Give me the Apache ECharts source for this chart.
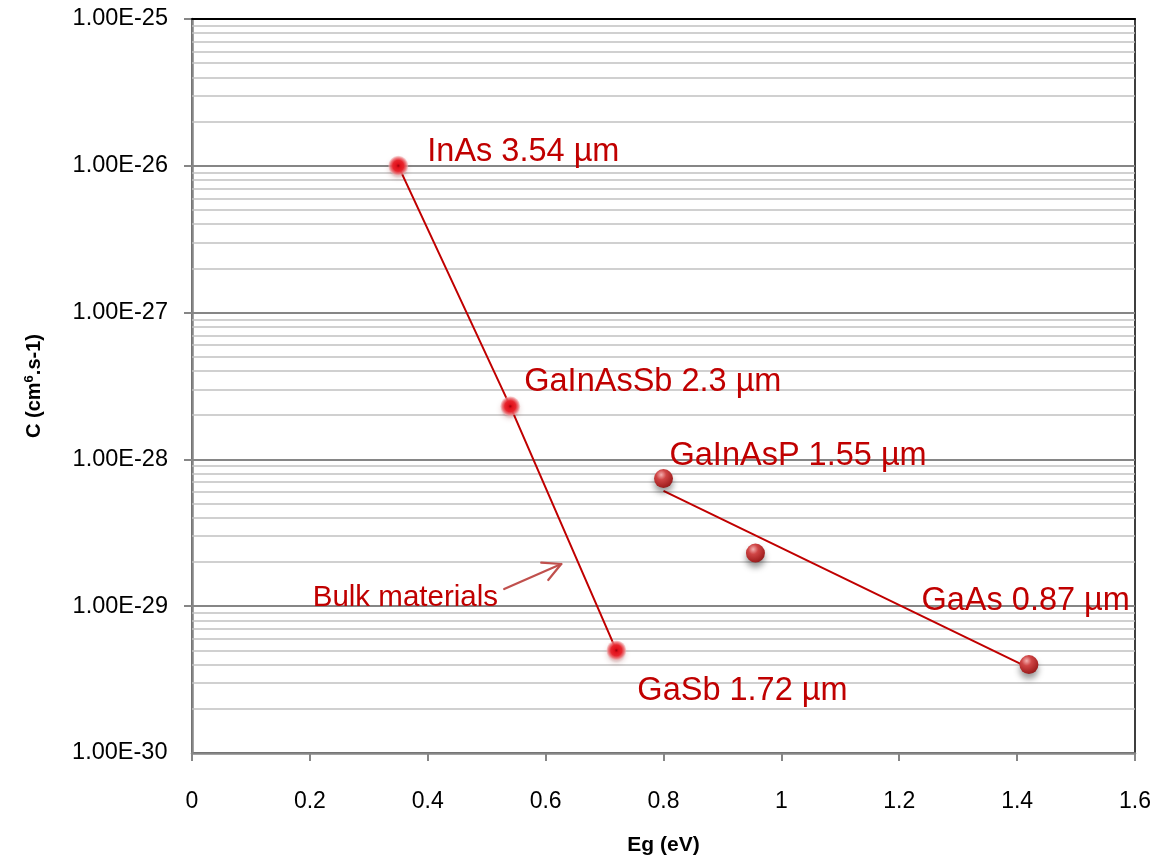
<!DOCTYPE html>
<html>
<head>
<meta charset="utf-8">
<title>Auger coefficient vs band gap</title>
<script src="https://cdn.jsdelivr.net/npm/echarts@6/dist/echarts.min.js"></script>
<style>
  html, body { margin: 0; padding: 0; background: #fff; }
  #chart { width: 1159px; height: 863px; }
</style>
</head>
<body>
<div id="chart"></div>
<script>
// Bulk III-V materials: band gap Eg (eV) vs Auger coefficient C (cm^6.s-1)
const bulkEg = [0.35, 0.54, 0.72];
const bulkC = [1.0e-26, 2.3e-28, 5.0e-30];
const bulkNames = ['InAs 3.54 µm', 'GaInAsSb 2.3 µm', 'GaSb 1.72 µm'];

// Near-infrared materials
const nirEg = [0.80, 0.956, 1.42];
const nirC = [7.4e-29, 2.3e-29, 4.0e-30];
const nirNames = ['GaInAsP 1.55 µm', '', 'GaAs 0.87 µm'];

// Trend line through the near-infrared points
const trendEg = [0.80, 1.42];
const trendC = [6.1e-29, 3.8e-30];

// Annotation "Bulk materials" and its arrow (data coordinates)
const noteText = 'Bulk materials';
const noteEg = [0.362];
const noteC = [1.14e-29];
const arrowEg = [0.5297, 0.6265, 0.6044, 0.5925];   // tail, tip, arm, arm
const arrowC = [1.31e-29, 1.938e-29, 1.509e-29, 1.978e-29];

// Axis ranges and tick labels
const xMin = 0, xMax = 1.6, xStep = 0.2;
const xTickLabels = ['0', '0.2', '0.4', '0.6', '0.8', '1', '1.2', '1.4', '1.6'];
const yTickLabels = ['1.00E-30', '1.00E-29', '1.00E-28', '1.00E-27', '1.00E-26', '1.00E-25'];
const yMinExp = -30, yMaxExp = -25;

const RED = '#C00000';
const FONT = '"Liberation Sans", Arial, sans-serif';

// label placement per point: anchor at the marker centre, then shifted
const labelPlace = {
  'InAs 3.54 µm':    { align: 'left',  offset: [29, -14] },
  'GaInAsSb 2.3 µm': { align: 'left',  offset: [14, -24] },
  'GaSb 1.72 µm':    { align: 'left',  offset: [21, 41] },
  'GaInAsP 1.55 µm': { align: 'left',  offset: [6, -23] },
  'GaAs 0.87 µm':    { align: 'right', offset: [101, -64] }
};

function pointItems(eg, c, names) {
  return eg.map((x, i) => {
    const item = { value: [x, c[i]], name: names[i] };
    const p = labelPlace[names[i]];
    if (p) {
      item.label = {
        show: true, position: 'inside', align: p.align, verticalAlign: 'middle',
        offset: p.offset, formatter: '{b}'
      };
    }
    return item;
  });
}

// minor grid values 2..9 x 10^n inside each decade, drawn across the full x range
const minorGrid = [];
for (let e = yMinExp; e < yMaxExp; e++) {
  for (let m = 2; m <= 9; m++) {
    const v = m * Math.pow(10, e);
    minorGrid.push([{ coord: [xMin, v] }, { coord: [xMax, v] }]);
  }
}

const bulkMarker = {
  color: {
    type: 'radial', x: 0.5, y: 0.5, r: 0.5,
    colorStops: [
      { offset: 0, color: '#a0000c' },
      { offset: 0.2, color: '#e0101a' },
      { offset: 0.55, color: '#e8262e' },
      { offset: 0.8, color: 'rgba(236,110,115,0.85)' },
      { offset: 1, color: 'rgba(245,190,192,0.5)' }
    ]
  },
  opacity: 1,
  shadowColor: 'rgba(120,0,0,0.3)', shadowBlur: 5, shadowOffsetY: 3
};

const sphereMarker = {
  color: {
    type: 'radial', x: 0.38, y: 0.3, r: 0.75,
    colorStops: [
      { offset: 0, color: '#f4b0b0' },
      { offset: 0.35, color: '#cf4545' },
      { offset: 0.8, color: '#a82424' },
      { offset: 1, color: '#8c1c1c' }
    ]
  },
  opacity: 1,
  shadowColor: 'rgba(0,0,0,0.4)', shadowBlur: 6, shadowOffsetY: 5
};

const labelStyle = { color: RED, fontSize: 32.5, fontFamily: FONT, opacity: 1 };
const noLine = { symbol: ['none', 'none'], animation: false, silent: true, label: { show: false }, emphasis: { disabled: true } };

// the log range is nudged by a hair so both end decades get a tick
const yLo = Math.pow(10, yMinExp) * 1.00001;
const yHi = Math.pow(10, yMaxExp) * 1.00001;

const tickLabelFont = { fontSize: 23.5, color: '#000', fontFamily: FONT };

const chart = echarts.init(document.getElementById('chart'), null, { renderer: 'canvas' });

chart.setOption({
  animation: false,
  backgroundColor: '#fff',
  grid: {
    left: 192, right: 24, top: 19, bottom: 110,
    outerBoundsMode: 'none', containLabel: false,
    show: true, borderColor: '#000', borderWidth: 1.5, backgroundColor: 'transparent'
  },
  xAxis: [{
    type: 'value', min: xMin, max: xMax, interval: xStep,
    name: 'Eg (eV)', nameLocation: 'middle', nameGap: 82, nameMoveOverlap: false,
    nameTextStyle: { fontSize: 21, fontWeight: 'bold', color: '#000', fontFamily: FONT },
    axisLine: { show: true, lineStyle: { color: '#868686', width: 2.5 } },
    axisTick: { show: true, inside: false, length: 8, lineStyle: { color: '#868686', width: 2 } },
    axisLabel: {
      fontSize: 23, color: '#000', fontFamily: FONT, margin: 37,
      showMinLabel: true, showMaxLabel: true,
      formatter: (v) => xTickLabels[Math.round((v - xMin) / xStep)] ?? ''
    },
    splitLine: { show: false }
  }, {
    // plot frame, top edge
    type: 'value', position: 'top', min: xMin, max: xMax, z: 10,
    axisLine: { show: true, lineStyle: { color: '#000', width: 2 } },
    axisTick: { show: false }, axisLabel: { show: false }, splitLine: { show: false }
  }],
  yAxis: {
    type: 'log', logBase: 10,
    min: yLo, max: yHi, interval: 1,
    name: 'C (cm{sup|6}.s-1)', nameLocation: 'middle', nameGap: 147, nameMoveOverlap: false,
    nameTextStyle: {
      fontSize: 20, fontWeight: 'bold', color: '#000', fontFamily: FONT,
      rich: { sup: { fontSize: 13, fontWeight: 'bold', color: '#000', verticalAlign: 'top', padding: [0, 0, 9, 0], fontFamily: FONT } }
    },
    axisLine: { show: true, lineStyle: { color: '#868686', width: 2.5 } },
    axisTick: { show: true, inside: false, length: 8, lineStyle: { color: '#868686', width: 2 } },
    axisLabel: Object.assign({}, tickLabelFont, {
      margin: 24,
      showMinLabel: true, showMaxLabel: true, hideOverlap: false,
      formatter: (v) => {
        const idx = Math.round(Math.log10(v)) - yMinExp;
        return yTickLabels[idx] ?? '';
      }
    }),
    splitLine: { show: true, lineStyle: { color: '#868686', width: 2 } },
    minorTick: { show: false },
    minorSplitLine: { show: false }
  },
  series: [
    {
      // minor horizontal gridlines
      type: 'line', data: [], silent: true, z: 1,
      markLine: Object.assign({}, noLine, {
        lineStyle: { color: '#c0c0c0', width: 1.6, type: 'solid' },
        data: minorGrid
      })
    },
    {
      // annotation: text and arrow, plus the bottom decade label at the axis corner
      type: 'line', data: [], silent: true, z: 4,
      markPoint: {
        symbol: 'circle', symbolSize: 1, silent: true,
        itemStyle: { color: 'transparent' },
        data: [
          {
            coord: [noteEg[0], noteC[0]],
            label: { show: true, position: 'inside', formatter: noteText, color: RED, fontSize: 29.5, fontFamily: FONT }
          },
          {
            coord: [xMin, yLo],
            label: Object.assign({}, tickLabelFont, {
              show: true, position: 'left', distance: 24, align: 'right', verticalAlign: 'middle',
              formatter: yTickLabels[0]
            })
          }
        ]
      },
      markLine: Object.assign({}, noLine, {
        lineStyle: { color: '#C0504D', width: 2.2, type: 'solid', cap: 'round' },
        data: [0, 2, 3].map(k => [
          { coord: [arrowEg[k], arrowC[k]] },
          { coord: [arrowEg[1], arrowC[1]] }
        ])
      })
    },
    {
      name: 'Bulk', type: 'line', z: 5,
      data: pointItems(bulkEg, bulkC, bulkNames),
      lineStyle: { color: RED, width: 2 },
      symbol: 'circle', symbolSize: 20,
      itemStyle: bulkMarker,
      label: Object.assign({ show: false }, labelStyle)
    },
    {
      name: 'Trend', type: 'line', z: 5,
      data: trendEg.map((x, i) => [x, trendC[i]]),
      lineStyle: { color: RED, width: 2 },
      showSymbol: false, symbol: 'none'
    },
    {
      name: 'NIR', type: 'scatter', z: 6,
      data: pointItems(nirEg, nirC, nirNames),
      symbol: 'circle', symbolSize: 19,
      itemStyle: sphereMarker,
      label: Object.assign({ show: false }, labelStyle)
    }
  ]
});
</script>
</body>
</html>
